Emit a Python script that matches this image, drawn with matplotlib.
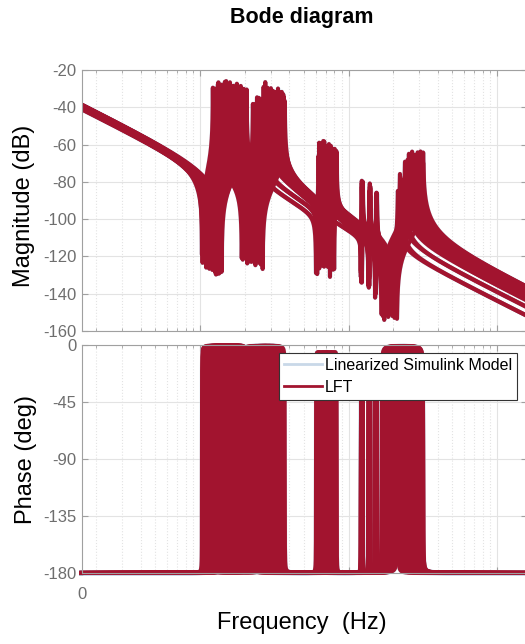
import numpy as np
import matplotlib
matplotlib.use('Agg')
import matplotlib.pyplot as plt
from matplotlib.ticker import NullFormatter

plt.rcParams['font.family'] = 'Liberation Sans'
plt.rcParams['axes.unicode_minus'] = False

# --- uncertain plant samples ---
# low-frequency magnitude at the left edge of the plot (dB)
lf_db = [-40.5, -41.0, -38.7, -38.5, -38.4, -39.8, -38.9, -39.3, -40.4, -39.4,
         -38.8, -39.0, -40.0, -39.6, -39.4, -38.6, -40.2, -39.5, -40.8, -39.0,
         -39.8, -40.5, -38.5, -39.2, -39.1, -40.1, -38.7, -39.7, -40.3, -39.2,
         -38.9, -40.6]
# anti-resonance (z) / resonance (p) pairs per sample, Hz
z1a = [10.3, 10.5, 10.6, 10.8, 10.9, 11.1, 11.2, 11.4, 11.5, 11.7, 11.8, 12.0,
       12.1, 12.3, 12.4, 12.6, 12.7, 12.9, 13.0, 13.2, 13.4, 13.6, 13.8, 14.0,
       10.4, 11.0, 11.6, 12.2, 12.8, 13.3, 13.7, 10.7]
p1a = [12.2, 12.6, 13.3, 13.2, 14.7, 14.4, 15.9, 15.2, 16.7, 16.1, 17.7, 16.8,
       17.9, 16.7, 18.8, 17.9, 19.7, 18.7, 19.5, 18.5, 20.6, 18.8, 20.4, 18.5,
       15.0, 16.3, 19.0, 17.2, 20.2, 19.9, 19.2, 14.0]
z1b = [19.1, 19.4, 19.8, 20.1, 20.5, 20.8, 21.2, 21.5, 21.9, 22.2, 22.6, 22.9,
       23.3, 23.6, 24.0, 24.3, 24.6, 25.0, 25.3, 25.7, 26.0, 26.4, 25.0, 22.0,
       19.6, 20.3, 21.0, 21.7, 22.4, 23.1, 23.9, 20.6]
p1b = [22.7, 23.3, 24.2, 24.9, 27.7, 29.5, 27.6, 30.1, 29.1, 32.2, 29.8, 32.5,
       31.5, 34.0, 31.2, 34.0, 32.7, 36.3, 34.4, 36.5, 34.3, 37.2, 34.5, 31.9,
       26.8, 28.5, 27.5, 31.0, 30.0, 33.5, 35.5, 26.0]
z2 = [60.4, 61.5, 62.5, 63.5, 64.5, 65.5, 66.6, 67.5, 68.5, 69.5, 70.5, 71.5,
      72.5, 73.7, 74.5, 75.5, 76.5, 77.5, 78.5, 79.3, 80.0, 62.0, 66.0, 70.0,
      61.0, 63.0, 65.0, 67.0, 69.0, 71.0, 73.0, 75.0]
p2 = [62.8, 64.0, 65.0, 66.0, 67.1, 68.1, 69.3, 70.2, 71.2, 72.3, 73.3, 74.4,
      75.4, 76.6, 77.5, 78.5, 79.6, 80.6, 81.6, 82.5, 83.2, 64.5, 68.6, 72.8,
      63.4, 65.5, 67.6, 69.7, 71.8, 73.8, 75.9, 78.0]
z3 = [122, 137, 152, 121, 136, 151, 123, 138, 153, 122, 137, 152,
      121, 136, 151, 123, 138, 153, 122, 137, 152, 122, 137, 152,
      122, 137, 152, 136, 121, 153, 138, 123]
p3 = [123.8, 139.1, 154.3, 122.8, 138.0, 153.3, 124.8, 140.1, 155.3, 123.8, 139.1, 154.3,
      122.8, 138.0, 153.3, 124.8, 140.1, 155.3, 123.8, 139.1, 154.3, 123.8, 139.1, 154.3,
      123.8, 139.1, 154.3, 138.0, 122.8, 155.3, 140.1, 124.8]
z4 = [195, 205, 185, 200, 167, 169, 171, 173, 175, 177, 179, 181,
      183, 185, 187, 189, 191, 193, 195, 197, 200, 204, 208, 212,
      168, 172, 176, 180, 184, 188, 192, 174]
p4 = [215, 228, 222, 238, 305, 265, 318, 290, 250, 310, 275, 298,
      260, 315, 285, 300, 270, 295, 245, 312, 280, 288, 300, 318,
      255, 292, 268, 308, 240, 280, 302, 262]
# damping of each group
zeta = [0.0008, 0.0012, 0.0010, 0.0009, 0.0022]

f_min, f_max = 10 / (2 * np.pi), 1e4 / (2 * np.pi)

RED = '#A2142F'
BLUE = '#C9D8E8'
GRAY_TXT = '#6e6e6e'
GRAY_AX = '#a0a0a0'


def response(i, f):
    """Magnitude (dB) and phase (deg) of sample i"""
    w = 2 * np.pi * f
    w0 = 2 * np.pi * f_min
    mag = (10 ** (lf_db[i] / 20) * (w0 / w) ** 2).astype(complex)
    ph = np.full_like(f, -180.0)
    groups = [(z1a, p1a), (z1b, p1b), (z2, p2), (z3, p3), (z4, p4)]
    for (zs, ps), zt in zip(groups, zeta):
        wz, wp = 2 * np.pi * zs[i], 2 * np.pi * ps[i]
        num = (wz ** 2 - w ** 2 + 2j * zt * wz * w) / wz ** 2
        den = (wp ** 2 - w ** 2 + 2j * zt * wp * w) / wp ** 2
        mag = mag * num / den
        ph += np.degrees(np.arctan2(2 * zt * wz * w, wz ** 2 - w ** 2))
        ph -= np.degrees(np.arctan2(2 * zt * wp * w, wp ** 2 - w ** 2))
    return 20 * np.log10(np.abs(mag)), ph


# frequency grid, with every mode frequency included
modes = np.concatenate([z1a, p1a, z1b, p1b, z2, p2, z3, p3, z4, p4])
f = np.unique(np.concatenate([np.logspace(np.log10(f_min), np.log10(f_max), 5000), modes]))

fig = plt.figure(figsize=(5.25, 6.44), dpi=100)
W, H = 525, 644
ax1 = fig.add_axes([81.5 / W, (H - 331) / H, (527 - 81.5) / W, (331 - 70) / H])
ax2 = fig.add_axes([81.5 / W, (H - 573) / H, (527 - 81.5) / W, (573 - 345) / H])

curves = [response(i, f) for i in range(len(lf_db))]
for m, p in curves:
    ax1.semilogx(f, m, color=BLUE, lw=3.2)
    ax2.semilogx(f, p, color=BLUE, lw=3.2, clip_on=False)
for m, p in curves:
    ax1.semilogx(f, m, color=RED, lw=2.9)
    ax2.semilogx(f, p, color=RED, lw=2.9, clip_on=False)

ax1.set_ylim(-160, -20)
ax1.set_yticks(np.arange(-160, -19, 20))
ax2.set_ylim(-180, 0)
ax2.set_yticks([-180, -135, -90, -45, 0])

for ax in (ax1, ax2):
    ax.set_xlim(f_min, f_max)
    ax.xaxis.set_major_formatter(NullFormatter())
    ax.xaxis.set_minor_formatter(NullFormatter())
    ax.grid(True, which='major', color='#e3e3e3', lw=0.8)
    ax.grid(True, which='minor', axis='x', color='#e3e3e3', lw=0.8, ls=':')
    ax.tick_params(which='both', direction='in', top=True, right=True,
                   colors=GRAY_AX, labelcolor=GRAY_TXT, labelsize=12)
    ax.tick_params(which='major', length=4)
    ax.tick_params(which='minor', length=2.5)
    for s in ax.spines.values():
        s.set_color(GRAY_AX)
    ax.set_axisbelow(True)

ax2.text(0, -0.06, '0', transform=ax2.transAxes, ha='center', va='top',
         fontsize=12, color=GRAY_TXT)

leg_handles = [plt.Line2D([], [], color=BLUE, lw=2.0), plt.Line2D([], [], color=RED, lw=2.0)]
leg = ax2.legend(leg_handles, ['Linearized Simulink Model', 'LFT'], loc='upper right',
                 bbox_to_anchor=(0.9776, 0.965), borderaxespad=0, fontsize=11.5,
                 handlelength=2.4, handletextpad=0.2, borderpad=0.3, labelspacing=0.45,
                 fancybox=False, framealpha=1, edgecolor='#333333')
leg.get_frame().set_linewidth(0.8)

fig.text(302 / W, 1 - 17 / H, 'Bode diagram', ha='center', va='center',
         fontsize=15.5, fontweight='bold')
fig.text(24 / W, 1 - 206 / H, 'Magnitude (dB)', rotation=90, ha='center',
         va='center', fontsize=17)
fig.text(26 / W, 1 - 460 / H, 'Phase (deg)', rotation=90, ha='center',
         va='center', fontsize=17)
fig.text(302 / W, 1 - 623 / H, 'Frequency  (Hz)', ha='center', va='center',
         fontsize=17)

fig.savefig('out.png', dpi=100)
